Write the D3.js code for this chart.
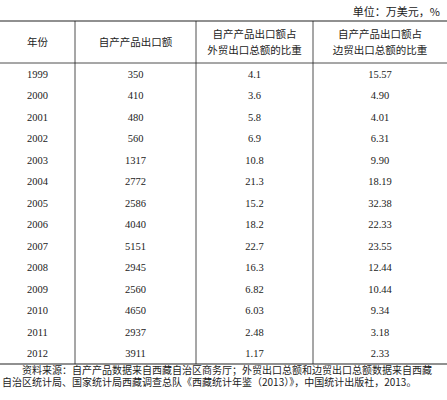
<!DOCTYPE html>
<html><head><meta charset="utf-8">
<script src="https://cdn.jsdelivr.net/npm/d3@7"></script>
<style>body{margin:0;background:#fff}</style>
</head><body><div id="chart"></div>
<script>
const years = ["1999","2000","2001","2002","2003","2004","2005","2006","2007","2008","2009","2010","2011","2012"];
const exportAmt = ["350","410","480","560","1317","2772","2586","4040","5151","2945","2560","4650","2937","3911"];
const shareForeign = ["4.1","3.6","5.8","6.9","10.8","21.3","15.2","18.2","22.7","16.3","6.82","6.03","2.48","1.17"];
const shareBorder = ["15.57","4.90","4.01","6.31","9.90","18.19","32.38","22.33","23.55","12.44","10.44","9.34","3.18","2.33"];
const headers = [["年份"],["自产产品出口额"],["自产产品出口额占","外贸出口总额的比重"],["自产产品出口额占","边贸出口总额的比重"]];
const unitText = "单位：万美元，%";
const notes = ["　　资料来源：自产产品数据来自西藏自治区商务厅；外贸出口总额和边贸出口总额数据来自西藏",
               "自治区统计局、国家统计局西藏调查总队《西藏统计年鉴（2013）》，中国统计出版社，2013。"];

const W = 447, H = 400;
const svg = d3.select("#chart").append("svg").attr("width", W).attr("height", H)
  .style("font-family", "'Noto Sans CJK SC', sans-serif").attr("fill", "#222");

const colEdges = [0, 75, 196, 313, 447];
const tableTop = 21, headBottom = 63, tableBottom = 364;
const y = d3.scaleBand().domain(years).range([headBottom, tableBottom]);

svg.append("text").text(unitText).attr("x", 440).attr("y", 16)
  .attr("text-anchor", "end").attr("font-size", 11);

// rules
[[tableTop, 1.2], [headBottom, 0.8], [tableBottom, 1.2]].forEach(([yy, w]) => {
  svg.append("line").attr("x1", 0).attr("x2", W).attr("y1", yy).attr("y2", yy)
    .attr("stroke", "#222").attr("stroke-width", w);
});
colEdges.slice(1, -1).forEach(x => {
  svg.append("line").attr("x1", x).attr("x2", x).attr("y1", tableTop).attr("y2", tableBottom)
    .attr("stroke", "#222").attr("stroke-width", 0.8);
});

const mid = i => (colEdges[i] + colEdges[i + 1]) / 2;

headers.forEach((lines, i) => {
  const cy = (tableTop + headBottom) / 2;
  lines.forEach((t, j) => {
    svg.append("text").text(t).attr("x", mid(i))
      .attr("y", cy + (j - (lines.length - 1) / 2) * 16 + 4)
      .attr("text-anchor", "middle").attr("font-size", 10.5);
  });
});

const cols = [years, exportAmt, shareForeign, shareBorder];
cols.forEach((arr, i) => {
  svg.append("g").selectAll("text").data(arr).join("text")
    .text(d => d)
    .attr("x", mid(i))
    .attr("y", (d, k) => y(years[k]) + y.bandwidth() / 2 + 4)
    .attr("text-anchor", "middle")
    .attr("font-size", 10.5)
    .style("font-family", "'Liberation Serif', serif");
});

notes.forEach((t, j) => {
  svg.append("text").text(t).attr("x", 2).attr("y", 374 + j * 12)
    .attr("font-size", 10);
});
</script></body></html>
